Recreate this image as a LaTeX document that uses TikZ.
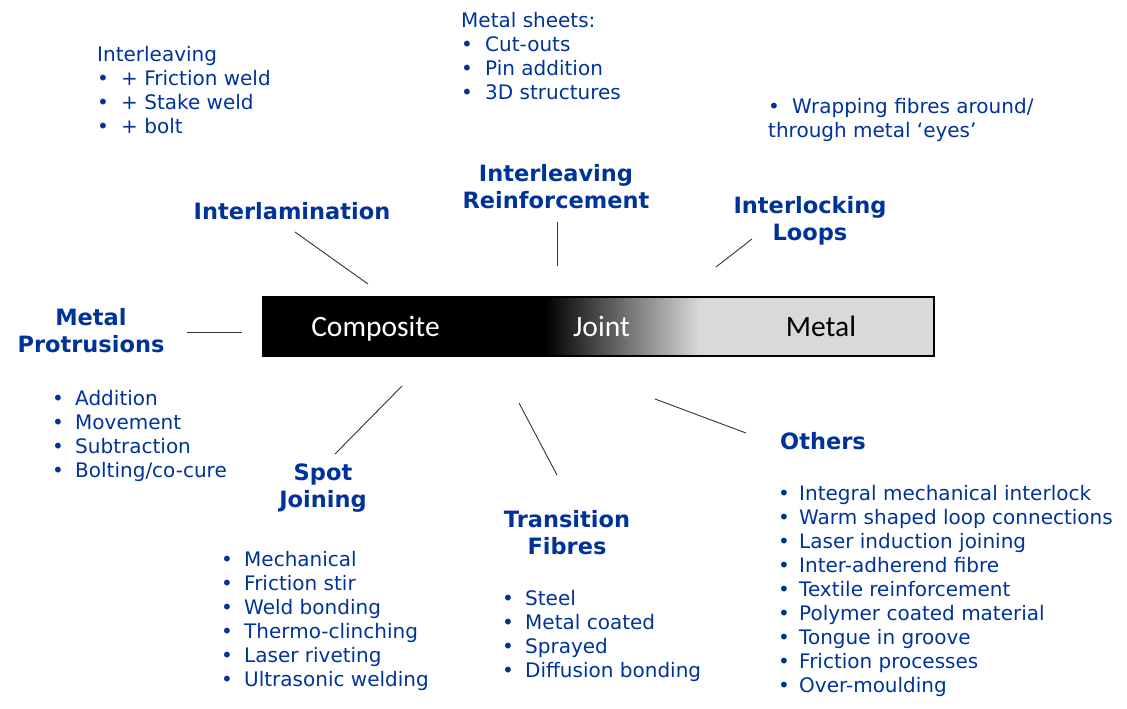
\documentclass[tikz,border=0pt]{standalone}
\usepackage{fontspec}
\setmainfont{DejaVu Sans}
\newfontfamily\barfont{Carlito}
\definecolor{tblue}{HTML}{003399}
\definecolor{bargray}{HTML}{D9D9D9}
\newcommand{\bl}[1][24pt]{\makebox[#1][l]{•}}
\newcommand{\fl}{\rule{0pt}{16pt}}
\newcommand{\fh}{\rule{0pt}{18pt}}
\begin{document}
\begin{tikzpicture}[x=1pt,y=-1pt,
  head/.style={text=tblue, font=\bfseries\fontsize{22.5}{27.5}\selectfont, align=center, inner sep=0pt, anchor=north},
  listbox/.style={text=tblue, font=\fontsize{20}{24}\selectfont, align=left, inner sep=0pt, anchor=north west},
  barlabel/.style={font=\barfont\fontsize{29.5}{30}\selectfont, inner sep=0pt, anchor=base},
  conn/.style={draw=black!80, line width=0.9pt}]
\useasboundingbox (0,0) rectangle (1127,709);
% bar
\fill[black] (263,297) rectangle (545,356);
\shade[left color=black, right color=bargray] (545,297) rectangle (700,356);
\fill[bargray] (700,297) rectangle (934,356);
\node[draw=black, line width=2pt, minimum width=671pt, minimum height=59pt, inner sep=0pt] (bar) at (598.5,326.5) {};
\node[barlabel, text=white] (composite) at (375.5,336.7) {Composite};
\node[barlabel, text=white] (joint) at (601.5,336.7) {Joint};
\node[barlabel, text=black] (metal) at (821,336.7) {Metal};
% headings
\node[head] (interlam) at (292,201) {\fh Interlamination};
\node[head] (interleave) at (556,163) {\fh Interleaving\\Reinforcement};
\node[head] (interlock) at (810,195) {\fh Interlocking\\Loops};
\node[head] (protr) at (91,307) {\fh Metal\\Protrusions};
\node[head] (spot) at (323,462) {\fh Spot\\Joining};
\node[head] (trans) at (567,509) {\fh Transition\\Fibres};
\node[head, anchor=north west] (others) at (780,431) {\fh Others};
% lists
\node[listbox] (l1) at (97,45) {\fl Interleaving\\\bl + Friction weld\\\bl + Stake weld\\\bl + bolt};
\node[listbox] (l2) at (461,11) {\fl Metal sheets:\\\bl Cut-outs\\\bl Pin addition\\\bl 3D structures};
\node[listbox] (l3) at (768,97.5) {\fl \bl Wrapping fibres around/\\through metal ‘eyes’};
\node[listbox] (l4) at (52,389) {\fl \bl[23pt]Addition\\\bl[23pt]Movement\\\bl[23pt]Subtraction\\\bl[23pt]Bolting/co-cure};
\node[listbox] (l5) at (221,550) {\fl \bl[23pt]Mechanical\\\bl[23pt]Friction stir\\\bl[23pt]Weld bonding\\\bl[23pt]Thermo-clinching\\\bl[23pt]Laser riveting\\\bl[23pt]Ultrasonic welding};
\node[listbox] (l6) at (502,589) {\fl \bl[23pt]Steel\\\bl[23pt]Metal coated\\\bl[23pt]Sprayed\\\bl[23pt]Diffusion bonding};
\node[listbox] (l7) at (778,484) {\fl \bl[21pt]Integral mechanical interlock\\\bl[21pt]Warm shaped loop connections\\\bl[21pt]Laser induction joining\\\bl[21pt]Inter-adherend fibre\\\bl[21pt]Textile reinforcement\\\bl[21pt]Polymer coated material\\\bl[21pt]Tongue in groove\\\bl[21pt]Friction processes\\\bl[21pt]Over-moulding};
% connectors
\coordinate (c1a) at (295,232); \coordinate (c1b) at (368,284);
\coordinate (c2a) at (557,222); \coordinate (c2b) at (557,266);
\coordinate (c3a) at (752,239); \coordinate (c3b) at (716,267);
\coordinate (c4a) at (187,332); \coordinate (c4b) at (242,332);
\coordinate (c5a) at (402,386); \coordinate (c5b) at (335,454);
\coordinate (c6a) at (519,403); \coordinate (c6b) at (557,475);
\coordinate (c7a) at (655,399); \coordinate (c7b) at (746,433);
\draw[conn] (c1a) -- (c1b);
\draw[conn] (c2a) -- (c2b);
\draw[conn] (c3a) -- (c3b);
\draw[conn] (c4a) -- (c4b);
\draw[conn] (c5a) -- (c5b);
\draw[conn] (c6a) -- (c6b);
\draw[conn] (c7a) -- (c7b);
\end{tikzpicture}
\end{document}
